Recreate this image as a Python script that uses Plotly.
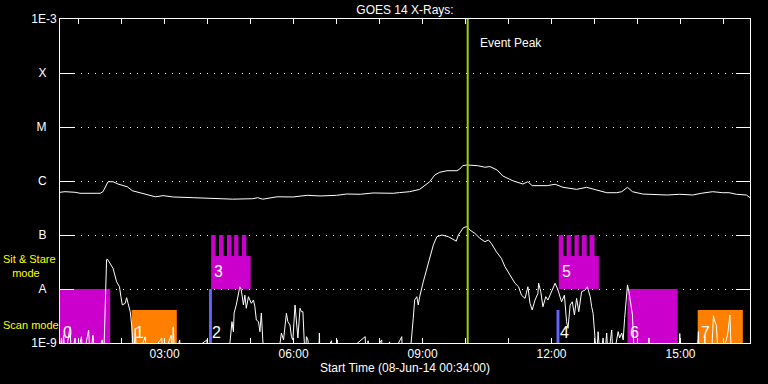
import numpy as np
import plotly.graph_objects as go

DAY = "2014-06-08 "
F = 5e-10  # below detection floor (clipped at 1E-9)

# GOES long channel (1-8 A)
long_time = ["00:34", "00:41", "00:55", "01:02", "01:30", "01:34", "01:41", "01:48", "01:55", "02:08",
             "02:15", "02:30", "02:47", "02:58", "03:12", "03:40", "04:21", "04:35", "05:03", "05:10",
             "05:17", "05:37", "05:59", "06:19", "06:37", "07:00", "07:14", "07:33", "07:51", "08:19",
             "08:28", "08:42", "08:56", "09:10", "09:17", "09:24", "09:34", "09:48", "09:52", "09:56",
             "10:02", "10:17", "10:27", "10:34", "10:44", "10:52", "11:06", "11:20", "11:27", "11:33",
             "11:54", "12:05", "12:16", "12:35", "12:49", "12:58", "13:17", "13:31", "13:38", "13:46",
             "13:53", "14:07", "14:41", "14:59", "15:17", "15:29", "15:45", "15:59", "16:08", "16:18",
             "16:32", "16:37"]
long_flux = [6.18e-7, 6.34e-7, 6.18e-7, 5.92e-7, 5.92e-7, 6.34e-7, 9.7e-7, 9.7e-7, 8.8e-7, 7.8e-7,
             6.6e-7, 5.92e-7, 5.1e-7, 5.35e-7, 5.06e-7, 4.91e-7, 4.64e-7, 4.61e-7, 4.70e-7, 4.91e-7,
             4.61e-7, 5.1e-7, 5.06e-7, 5.43e-7, 5.28e-7, 5.43e-7, 5.74e-7, 5.68e-7, 6.0e-7, 5.92e-7,
             6.1e-7, 6.34e-7, 7.0e-7, 9.7e-7, 1.29e-6, 1.45e-6, 1.55e-6, 1.55e-6, 1.67e-6, 1.92e-6,
             1.98e-6, 1.92e-6, 1.80e-6, 1.85e-6, 1.60e-6, 1.24e-6, 1.01e-6, 8.8e-7, 9.7e-7, 8.2e-7,
             8.2e-7, 8.7e-7, 7.64e-7, 7.0e-7, 7.64e-7, 7.1e-7, 6.07e-7, 6.07e-7, 6.34e-7, 7.64e-7,
             6.34e-7, 5.74e-7, 5.5e-7, 5.68e-7, 5.5e-7, 5.92e-7, 6.34e-7, 6.07e-7, 6.07e-7, 5.68e-7,
             5.5e-7, 4.91e-7]

# GOES short channel (0.5-4 A)
short_pts = [
    ("00:34", F), ("00:36", 1.24e-9), ("00:37", F), ("00:39", 1.41e-9), ("00:41", F), ("00:48", 2.0e-9),
    ("00:50", F), ("00:55", 1.24e-9), ("00:57", F), ("01:04", 1.31e-9), ("01:06", F), ("01:14", 1.74e-9),
    ("01:16", F), ("01:20", 1.41e-9), ("01:23", F), ("01:33", 1.14e-9), ("01:35", F), ("01:37", 6.25e-9),
    ("01:39", 3.44e-8), ("01:40", 3.6e-8), ("01:44", 2.99e-8), ("01:48", 2.42e-8), ("01:53", 1.36e-8),
    ("01:57", 1.10e-8), ("01:59", 7.2e-9), ("02:01", 5.06e-9), ("02:05", 5.43e-9), ("02:07", 6.9e-9),
    ("02:09", 5.43e-9), ("02:12", 3.8e-9), ("02:14", 2.15e-9), ("02:15", 1.14e-9), ("02:17", F),
    ("02:19", 1.87e-9), ("02:21", F), ("02:33", 1.31e-9), ("02:35", F), ("02:56", 1.24e-9), ("02:58", F),
    ("03:09", 1.41e-9), ("03:11", F), ("03:12", 2.0e-9), ("03:14", F), ("03:21", 1.14e-9), ("03:23", F),
    ("03:59", 1.14e-9), ("04:00", F), ("04:29", F), ("04:34", 2.48e-9), ("04:36", 1.62e-9),
    ("04:37", 3.6e-9), ("04:40", 5.06e-9), ("04:43", 8.9e-9), ("04:45", 1.10e-8), ("04:47", 9.6e-9),
    ("04:50", 5.06e-9), ("04:52", 7.7e-9), ("04:54", 4.4e-9), ("04:57", 7.2e-9), ("04:59", 6.25e-9),
    ("05:01", 5.43e-9), ("05:04", 6.25e-9), ("05:06", 4.7e-9), ("05:08", 2.67e-9), ("05:11", 2.48e-9),
    ("05:13", 1.62e-9), ("05:15", 3.6e-9), ("05:17", 1.14e-9), ("05:19", F), ("05:38", F),
    ("05:41", 1.14e-9), ("05:43", 1.53e-9), ("05:46", 1.14e-9), ("05:50", 3.55e-9), ("05:52", 2.48e-9),
    ("05:55", 2.15e-9), ("05:57", 1.31e-9), ("05:59", 1.14e-9), ("06:02", 5.06e-9), ("06:04", 2.15e-9),
    ("06:06", 1.24e-9), ("06:09", 4.4e-9), ("06:11", 3.8e-9), ("06:13", 3.8e-9), ("06:16", F),
    ("06:18", 1.31e-9), ("06:20", 1.14e-9), ("06:23", F), ("06:35", F), ("06:36", 1.53e-9), ("06:37", F),
    ("06:53", 1.1e-9), ("06:54", F), ("07:01", 1.14e-9), ("07:02", F), ("07:40", 1.31e-9), ("07:41", F),
    ("07:44", 1.1e-9), ("07:45", F), ("08:03", 1.14e-9), ("08:04", F), ("08:14", 1.05e-9), ("08:15", F),
    ("08:31", 1.31e-9), ("08:32", F), ("08:42", F), ("08:45", 1.24e-9), ("08:47", 2.86e-9),
    ("08:49", 6.25e-9), ("08:52", 7.2e-9), ("08:54", 5.06e-9), ("08:56", 7.2e-9), ("09:01", 1.36e-8),
    ("09:06", 2.42e-8), ("09:10", 3.96e-8), ("09:15", 6.5e-8), ("09:20", 9.3e-8), ("09:27", 1.0e-7),
    ("09:36", 9.3e-8), ("09:43", 8.1e-8), ("09:47", 7.7e-8), ("09:50", 1.0e-7), ("09:57", 1.37e-7),
    ("10:02", 1.43e-7), ("10:06", 1.24e-7), ("10:13", 1.07e-7), ("10:20", 8.7e-8), ("10:27", 7.5e-8),
    ("10:32", 8.1e-8), ("10:36", 7.0e-8), ("10:43", 4.9e-8), ("10:50", 3.7e-8), ("10:55", 2.59e-8),
    ("11:02", 1.82e-8), ("11:09", 1.28e-8), ("11:14", 1.10e-8), ("11:18", 7.7e-9), ("11:23", 6.7e-9),
    ("11:27", 1.10e-8), ("11:30", 5.43e-9), ("11:33", 4.1e-9), ("11:37", 6.25e-9), ("11:41", 8.3e-9),
    ("11:42", 1.28e-8), ("11:45", 8.9e-9), ("11:48", 4.7e-9), ("11:52", 7.2e-9), ("11:55", 6.25e-9),
    ("12:00", 8.9e-9), ("12:05", 1.28e-8), ("12:09", 9.6e-9), ("12:14", 5.8e-9), ("12:18", 7.7e-9),
    ("12:21", 2.48e-9), ("12:23", 1.87e-9), ("12:26", 5.06e-9), ("12:29", 5.8e-9), ("12:32", 3.3e-9),
    ("12:35", 6.7e-9), ("12:38", 3.8e-9), ("12:42", 8.9e-9), ("12:47", 9.6e-9), ("12:50", 1.10e-8),
    ("12:54", 7.2e-9), ("12:56", 4.7e-9), ("12:58", 3.55e-9), ("13:01", 1.1e-9), ("13:03", F),
    ("13:05", 1.62e-9), ("13:08", F), ("13:12", 1.24e-9), ("13:14", F), ("13:17", 1.53e-9), ("13:19", F),
    ("13:24", 1.74e-9), ("13:26", F), ("13:33", 1.62e-9), ("13:35", 1.24e-9), ("13:38", 1.53e-9),
    ("13:40", 1.14e-9), ("13:42", 2.86e-9), ("13:45", 8.9e-9), ("13:46", 1.19e-8), ("13:48", 8.9e-9),
    ("13:50", 5.8e-9), ("13:53", 3.3e-9), ("13:54", 1.41e-9), ("13:56", F), ("14:14", F),
    ("14:16", 1.24e-9), ("14:18", F), ("14:58", F), ("14:59", 1.5e-9), ("15:00", F), ("15:23", F),
    ("15:25", 1.62e-9), ("15:26", F), ("15:33", F), ("15:34", 1.31e-9), ("15:35", F), ("15:43", F),
    ("15:46", 3.2e-9), ("15:48", 2.48e-9), ("15:50", 2.15e-9), ("15:53", F), ("16:04", 1.14e-9),
    ("16:06", 1.53e-9), ("16:09", 3.3e-9), ("16:11", F), ("16:37", F),
]
short_time = [p[0] for p in short_pts]
short_flux = [p[1] for p in short_pts]

# IRIS observation blocks
block_labels = ["0", "1", "2", "3", "4", "5", "6", "7"]
block_start = ["00:34", "02:14", "04:02", "04:05", "12:07", "12:10", "13:46", "15:24"]
block_end = ["01:44", "03:17", "04:06", "05:00", "12:11", "13:06", "14:56", "16:27"]
block_low = [1e-9, 1e-9, 1e-9, 1e-8, 1e-9, 1e-8, 1e-9, 1e-9]
block_high = [1e-8, 4.1e-9, 1e-8, 4.1e-8, 4.1e-9, 4.1e-8, 1e-8, 4.1e-9]
block_mode = ["sit", "scan", "cal", "sit", "cal", "sit", "sit", "scan"]

teeth_start = ["04:05", "04:16", "04:27", "04:37", "04:48", "12:10", "12:21", "12:32", "12:42", "12:53"]
teeth_end = ["04:11", "04:22", "04:33", "04:43", "04:54", "12:16", "12:27", "12:38", "12:49", "13:00"]
teeth_low = 4.1e-8
teeth_high = 1e-7

event_peak = "10:03"

y_tickvals = [1e-9, 1e-8, 1e-7, 1e-6, 1e-5, 1e-4, 1e-3]
y_ticktext = ["1E-9", "A", "B", "C", "M", "X", "1E-3"]

mode_colors = {"sit": "#cc00cc", "scan": "#ff8000", "cal": "#6464ff"}
FONT = "Liberation Sans"

fig = go.Figure()


def polys(starts, ends, lows, highs):
    xs, ys = [], []
    for s, e, lo, hi in zip(starts, ends, lows, highs):
        xs += [DAY + s, DAY + e, DAY + e, DAY + s, DAY + s, None]
        ys += [lo, lo, hi, hi, lo, None]
    return xs, ys


for mode, col in mode_colors.items():
    idx = [i for i, m in enumerate(block_mode) if m == mode]
    xs, ys = polys([block_start[i] for i in idx], [block_end[i] for i in idx],
                   [block_low[i] for i in idx], [block_high[i] for i in idx])
    fig.add_trace(go.Scatter(x=xs, y=ys, fill="toself", fillcolor=col, mode="lines",
                             line=dict(width=0, color=col), hoverinfo="skip", showlegend=False))

xs, ys = polys(teeth_start, teeth_end, [teeth_low] * len(teeth_start), [teeth_high] * len(teeth_start))
fig.add_trace(go.Scatter(x=xs, y=ys, fill="toself", fillcolor=mode_colors["sit"], mode="lines",
                         line=dict(width=0, color=mode_colors["sit"]), hoverinfo="skip", showlegend=False))

fig.add_trace(go.Scatter(x=[DAY + t for t in long_time], y=long_flux, mode="lines",
                         line=dict(color="white", width=1), showlegend=False))
fig.add_trace(go.Scatter(x=[DAY + t for t in short_time], y=short_flux, mode="lines",
                         line=dict(color="white", width=1), showlegend=False))

fig.add_trace(go.Scatter(x=[DAY + event_peak, DAY + event_peak], y=[1e-9, 1e-3], mode="lines",
                         line=dict(color="#a0d000", width=2), showlegend=False))

annotations = []
for lab, s, lo in zip(block_labels, block_start, block_low):
    yv = np.log10(lo) + (0.2 if lo < 5e-9 else 0.32)
    annotations.append(dict(x=DAY + s, y=yv, xref="x", yref="y", text=lab, showarrow=False,
                            xanchor="left", yanchor="middle", xshift=1,
                            font=dict(family=FONT, size=16, color="white")))

annotations.append(dict(x=DAY + event_peak, y=np.log10(teeth_high) + 3.55, xref="x", yref="y",
                        text="Event Peak", showarrow=False, xanchor="left", yanchor="middle", xshift=10,
                        font=dict(family=FONT, size=12, color="white")))
annotations.append(dict(x=(1 - 60) / 690, y=(343 - 266) / 324, xref="paper", yref="paper",
                        text="Sit & Stare<br>&nbsp;&nbsp;&nbsp;mode", showarrow=False, align="left",
                        xanchor="left", yanchor="middle",
                        font=dict(family=FONT, size=11, color="#ffff00")))
annotations.append(dict(x=(1 - 60) / 690, y=(343 - 325) / 324, xref="paper", yref="paper",
                        text="Scan mode", showarrow=False, xanchor="left", yanchor="middle",
                        font=dict(family=FONT, size=11, color="#ffff00")))

fig.update_layout(
    width=768, height=384,
    margin=dict(l=60, r=18, t=19, b=41),
    paper_bgcolor="black", plot_bgcolor="black",
    title=dict(text="GOES 14 X-Rays:", x=405 / 768, xanchor="center", y=1 - 10 / 384, yanchor="middle",
               font=dict(family=FONT, size=12, color="white")),
    annotations=annotations,
    showlegend=False,
)

fig.update_xaxes(
    type="date",
    range=[DAY + "00:34", DAY + "16:37"],
    tick0=DAY + "00:00", dtick=3 * 3600000, tickformat="%H:%M",
    ticks="inside", ticklen=5, tickcolor="white", tickwidth=1,
    minor=dict(dtick=3600000, tick0=DAY + "00:00", ticks="inside", ticklen=5, tickcolor="white", showgrid=False),
    showline=True, linecolor="white", linewidth=1, mirror="ticks",
    showgrid=False, zeroline=False,
    tickfont=dict(family=FONT, size=12, color="white"),
    title=dict(text="Start Time (08-Jun-14 00:34:00)", font=dict(family=FONT, size=12, color="white"), standoff=2),
)

fig.update_yaxes(
    type="log", range=[-9, -3],
    tickmode="array", tickvals=y_tickvals,
    ticktext=[t if len(t) > 1 else t + "&nbsp;&nbsp;&nbsp;" for t in y_ticktext],
    ticks="inside", ticklen=14, tickcolor="white", tickwidth=1,
    showline=True, linecolor="white", linewidth=1, mirror="ticks",
    showgrid=True, gridcolor="white", gridwidth=1, griddash="1px,6px",
    zeroline=False,
    tickfont=dict(family=FONT, size=12, color="white"),
)

fig.write_html("out.html", config={"displayModeBar": False},
               post_script="document.body.style.margin='0';document.body.style.background='black';")
